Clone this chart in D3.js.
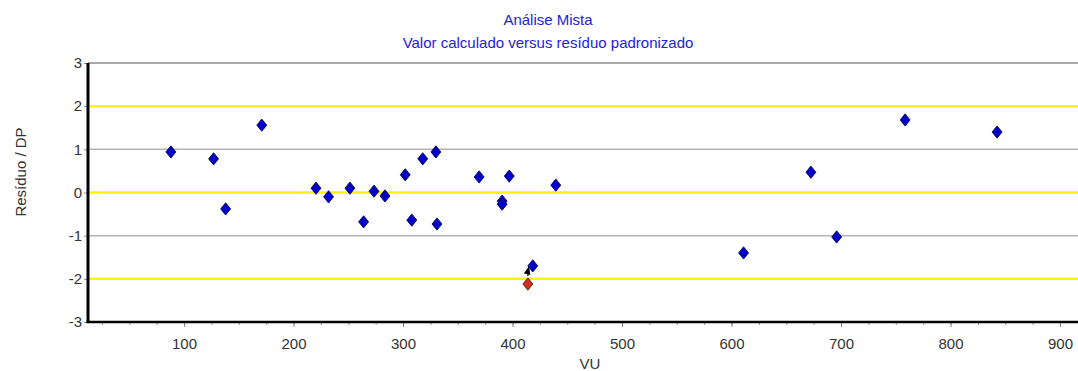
<!DOCTYPE html>
<html>
<head>
<meta charset="utf-8">
<script src="https://cdn.jsdelivr.net/npm/d3@7"></script>
<style>
  body { margin: 0; background: #fff; }
  svg { display: block; font-family: "Liberation Sans", Arial, sans-serif; }
</style>
</head>
<body>
<div id="chart"></div>
<script>
// Chart data
const vu =      [88, 127, 138, 171, 220.5, 232, 251.5, 264, 273.5, 283.5, 302, 318, 330, 308, 331, 369.5, 390.5, 390.5, 397, 439.5, 418.5, 611, 672.5, 696, 758.5, 842.5];
const residuo = [0.94, 0.78, -0.38, 1.56, 0.10, -0.10, 0.10, -0.68, 0.03, -0.08, 0.41, 0.78, 0.94, -0.64, -0.73, 0.36, -0.20, -0.27, 0.38, 0.17, -1.70, -1.40, 0.47, -1.03, 1.68, 1.40];
// point moved (red) and where it went to
const movedVu = 414, movedRes = -2.12;
const targetVu = 418.5, targetRes = -1.70;

const xTicks = [100, 200, 300, 400, 500, 600, 700, 800, 900];
const yTicks = [-3, -2, -1, 0, 1, 2, 3];
const yellowLines = [-2, 0, 2];
const grayLines = [-1, 1];

const title1 = 'Análise Mista',
      title2 = 'Valor calculado versus resíduo padronizado';

const width = 1078, height = 371;
const margin = { top: 63, right: 0, bottom: 49, left: 88 };

const svg = d3.select('#chart').append('svg')
    .attr('width', width)
    .attr('height', height);

// Scales
const x = d3.scaleLinear()
    .domain([12.3, 916.4])
    .range([margin.left, width - margin.right]);

const y = d3.scaleLinear()
    .domain([-3, 3])
    .range([height - margin.bottom, margin.top]);

// Titles
svg.append('text')
    .attr('x', 548).attr('y', 25)
    .attr('text-anchor', 'middle')
    .attr('font-size', '15px')
    .style('fill', '#2222dd')
    .text(title1);

svg.append('text')
    .attr('x', 548).attr('y', 48)
    .attr('text-anchor', 'middle')
    .attr('font-size', '15px')
    .style('fill', '#2222dd')
    .text(title2);

// Horizontal reference lines
svg.append('g').selectAll('line').data(grayLines)
    .enter().append('line')
        .attr('x1', x.range()[0]).attr('x2', x.range()[1])
        .attr('y1', d => y(d)).attr('y2', d => y(d))
        .style('stroke', '#b4b4b4')
        .style('stroke-width', 1.5);

svg.append('g').selectAll('line').data(yellowLines)
    .enter().append('line')
        .attr('x1', x.range()[0]).attr('x2', x.range()[1])
        .attr('y1', d => y(d)).attr('y2', d => y(d))
        .style('stroke', '#f7f700')
        .style('stroke-width', 2.5);

// Top frame line
svg.append('line')
    .attr('x1', x.range()[0]).attr('x2', x.range()[1])
    .attr('y1', y(3)).attr('y2', y(3))
    .style('stroke', '#555')
    .style('stroke-width', 1);

// X axis: minor ticks every 25
const xAxis = svg.append('g')
    .attr('transform', `translate(0, ${y(-3)})`);

xAxis.append('g')
    .call(d3.axisBottom(x).tickValues(d3.range(25, 916, 25)).tickSize(3).tickFormat(''))
    .call(g => g.select('.domain').remove())
    .call(g => g.selectAll('line').attr('stroke', '#999'));

xAxis.append('g')
    .call(d3.axisBottom(x).tickValues(xTicks).tickSize(5).tickPadding(11))
    .call(g => g.select('.domain').remove())
    .call(g => g.selectAll('line').attr('stroke', '#888'))
    .call(g => g.selectAll('text')
        .attr('font-size', '15px')
        .attr('font-family', '"Liberation Sans", Arial, sans-serif')
        .style('fill', '#333'));

// Y axis
svg.append('g')
    .attr('transform', `translate(${margin.left}, 0)`)
    .call(d3.axisLeft(y).tickValues(yTicks).tickSize(4).tickPadding(2).tickFormat(d => String(d)))
    .call(g => g.select('.domain').remove())
    .call(g => g.selectAll('line').attr('stroke', '#888'))
    .call(g => g.selectAll('text')
        .attr('font-size', '15px')
        .attr('font-family', '"Liberation Sans", Arial, sans-serif')
        .style('fill', '#333'));

// Thick axis lines
svg.append('line')
    .attr('x1', margin.left).attr('x2', margin.left)
    .attr('y1', y(3)).attr('y2', y(-3) + 1)
    .style('stroke', '#000')
    .style('stroke-width', 3);

svg.append('line')
    .attr('x1', margin.left - 1.5).attr('x2', x.range()[1])
    .attr('y1', y(-3)).attr('y2', y(-3))
    .style('stroke', '#000')
    .style('stroke-width', 2.5);

// Axis titles
svg.append('text')
    .attr('transform', `translate(26, 172) rotate(-90)`)
    .attr('text-anchor', 'middle')
    .attr('font-size', '15px')
    .style('fill', '#333')
    .text('Resíduo / DP');

svg.append('text')
    .attr('x', 590).attr('y', 369)
    .attr('text-anchor', 'middle')
    .attr('font-size', '15px')
    .style('fill', '#333')
    .text('VU');

// Arrow from moved point to its new place
svg.append('defs').append('marker')
    .attr('id', 'arrow')
    .attr('viewBox', '0 0 10 10')
    .attr('refX', 9).attr('refY', 5)
    .attr('markerWidth', 7).attr('markerHeight', 7)
    .attr('orient', 'auto')
    .append('path')
        .attr('d', 'M0,1 L10,5 L0,9 Z')
        .style('fill', '#000');

const mx = x(movedVu), my = y(movedRes);
const tx = x(targetVu), ty = y(targetRes);
svg.append('path')
    .attr('d', `M${mx},${my - 3} L${mx},${ty + 5} L${tx - 4},${ty + 1}`)
    .style('fill', 'none')
    .style('stroke', '#000')
    .style('stroke-width', 1.2)
    .style('stroke-dasharray', '3,2')
    .attr('marker-end', 'url(#arrow)');

// Points
const diamond = d3.symbol().type(d3.symbolDiamond).size(60);

svg.append('g').selectAll('path').data(vu)
    .enter().append('path')
        .attr('d', diamond)
        .attr('transform', (d, i) => `translate(${x(d)}, ${y(residuo[i])}) scale(1.2, 0.85)`)
        .style('fill', '#0000c8')
        .style('stroke', '#000040')
        .style('stroke-width', 0.8);

svg.append('path')
    .attr('d', diamond)
    .attr('transform', `translate(${mx}, ${my}) scale(1.2, 0.85)`)
    .style('fill', '#d03020')
    .style('stroke', '#402000')
    .style('stroke-width', 0.8);
</script>
</body>
</html>
